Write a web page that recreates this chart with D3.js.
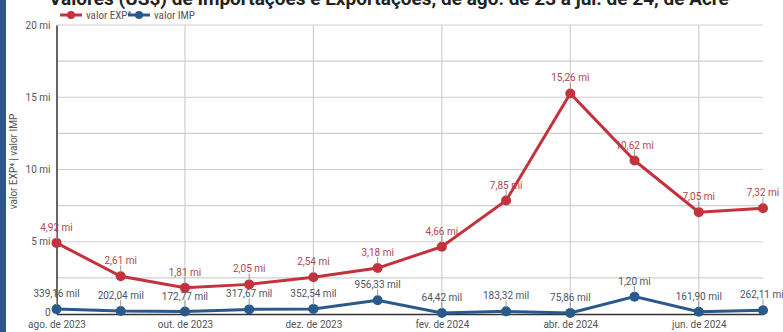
<!DOCTYPE html>
<html>
<head>
<meta charset="utf-8">
<script src="https://cdn.jsdelivr.net/npm/d3@7"></script>
<style>
  html, body { margin: 0; padding: 0; background: #fff; }
  svg { display: block; font-family: Roboto, "Noto Sans", sans-serif; }
  .narrow { font-family: "Liberation Sans Narrow", "Roboto Condensed", Roboto, sans-serif; }
</style>
</head>
<body>
<svg id="chart" width="783" height="332"></svg>
<script>
// Months shown on the x axis
const months = ["ago. de 2023", "set. de 2023", "out. de 2023", "nov. de 2023", "dez. de 2023", "jan. de 2024",
                "fev. de 2024", "mar. de 2024", "abr. de 2024", "mai. de 2024", "jun. de 2024", "jul. de 2024"];
// Export values (US$)
const expValues = [4920, 2610, 1810, 2050, 2540, 3180, 4660, 7850, 15260, 10620, 7050, 7320];
const expLabels = ["4,92 mi", "2,61 mi", "1,81 mi", "2,05 mi", "2,54 mi", "3,18 mi", "4,66 mi", "7,85 mi", "15,26 mi", "10,62 mi", "7,05 mi", "7,32 mi"];
// Import values (US$)
const impValues = [339.16, 202.04, 172.77, 317.67, 352.54, 956.33, 64.42, 183.32, 75.86, 1200, 161.90, 262.11];
const impLabels = ["339,16 mil", "202,04 mil", "172,77 mil", "317,67 mil", "352,54 mil", "956,33 mil", "64,42 mil", "183,32 mil", "75,86 mil", "1,20 mi", "161,90 mil", "262,11 mil"];
// Y axis ticks
const yTicks = [0, 5000, 10000, 15000, 20000];
const yTickLabels = ["0", "5 mi", "10 mi", "15 mi", "20 mi"];
const yGrid = [2500, 5000, 7500, 10000, 12500, 15000, 17500, 20000];
// Labelled x positions (every second month)
const xTickIdx = [0, 2, 4, 6, 8, 10];

const svg = d3.select("#chart");
const W = 783, H = 332;
const m = { left: 56.5, right: 20, top: 25, bottom: 18 };

const RED = "#c3323d", BLUE = "#2a5a8c";

// Left accent bar
svg.append("rect").attr("x", 0).attr("y", 0).attr("width", 6).attr("height", H).attr("fill", "#2c5788");

// Title (top of the card)
svg.append("text")
  .attr("x", 389).attr("y", 5)
  .attr("text-anchor", "middle")
  .attr("font-size", 19).attr("font-weight", "bold").attr("fill", "#222")
  .text("Valores (US$) de Importações e Exportações, de ago. de 23 a jul. de 24, de Acre");

const x = d3.scalePoint().domain(d3.range(months.length)).range([m.left, W - m.right]);
const y = d3.scaleLinear().domain([0, 20000]).range([H - m.bottom, m.top]);

// Horizontal gridlines
svg.append("g").selectAll("line").data(yGrid).join("line")
  .attr("x1", m.left).attr("x2", W - m.right)
  .attr("y1", d => y(d)).attr("y2", d => y(d))
  .attr("stroke", "#cfcfcf").attr("stroke-width", 1.2);

// Vertical gridlines
svg.append("g").selectAll("line").data(xTickIdx.slice(1)).join("line")
  .attr("x1", d => x(d)).attr("x2", d => x(d))
  .attr("y1", m.top).attr("y2", H - m.bottom)
  .attr("stroke", "#cfcfcf").attr("stroke-width", 1.2);

// Y axis
const yAxis = d3.axisLeft(y).tickValues(yTicks).tickFormat((d, i) => yTickLabels[i]).tickSize(0).tickPadding(6);
const gy = svg.append("g").attr("transform", `translate(${m.left},0)`).call(yAxis);
gy.select(".domain").attr("stroke", "#333").attr("stroke-width", 1.5);
gy.selectAll("text").attr("font-size", 10).attr("fill", "#555").attr("font-family", "Roboto, sans-serif");
gy.selectAll(".tick").filter(d => d === 0).select("text").attr("dy", "0.1em");

// X axis
const xAxis = d3.axisBottom(x).tickValues(xTickIdx).tickFormat(i => months[i]).tickSize(0).tickPadding(7);
const gx = svg.append("g").attr("transform", `translate(0,${H - m.bottom})`).call(xAxis);
gx.select(".domain").attr("stroke", "#333").attr("stroke-width", 1.5);
gx.selectAll("text").attr("font-size", 10).attr("fill", "#555").attr("font-family", "Roboto, sans-serif");

// Y axis title
svg.append("text")
  .attr("transform", `translate(17,${(m.top + H - m.bottom) / 2 - 8}) rotate(-90)`)
  .attr("text-anchor", "middle").attr("font-size", 10).attr("fill", "#555")
  .text("valor EXP⁴ | valor IMP");

// Series drawing
function drawSeries(values, labels, color, labelColor) {
  const line = d3.line().x((d, i) => x(i)).y(d => y(d));
  const g = svg.append("g");
  g.append("path").datum(values).attr("d", line)
    .attr("fill", "none").attr("stroke", color).attr("stroke-width", 3);
  g.selectAll("circle").data(values).join("circle")
    .attr("cx", (d, i) => x(i)).attr("cy", d => y(d)).attr("r", 5).attr("fill", color);
  // leader lines
  g.selectAll("line.lead").data(values).join("line").attr("class", "lead")
    .attr("x1", (d, i) => x(i)).attr("x2", (d, i) => x(i))
    .attr("y1", d => y(d) - 4).attr("y2", d => y(d) - 11)
    .attr("stroke", "#999").attr("stroke-width", 1);
  g.selectAll("text").data(values).join("text")
    .attr("x", (d, i) => x(i)).attr("y", d => y(d) - 12)
    .attr("text-anchor", "middle").attr("font-size", 10).attr("fill", labelColor)
    .text((d, i) => labels[i]);
}
drawSeries(impValues, impLabels, BLUE, "#4a5566");
drawSeries(expValues, expLabels, RED, "#b0454f");

// Legend
const legend = [{ name: "valor EXP⁴", color: RED, x: 60 }, { name: "valor IMP", color: BLUE, x: 128 }];
const lg = svg.append("g").selectAll("g").data(legend).join("g")
  .attr("transform", d => `translate(${d.x},15)`);
lg.append("line").attr("x1", 0).attr("x2", 22).attr("stroke", d => d.color).attr("stroke-width", 3);
lg.append("circle").attr("cx", 11).attr("r", 4).attr("fill", d => d.color);
lg.append("text").attr("class", "narrow").attr("x", 26).attr("y", 4).attr("font-size", 11).attr("fill", "#555").text(d => d.name);
</script>
</body>
</html>
